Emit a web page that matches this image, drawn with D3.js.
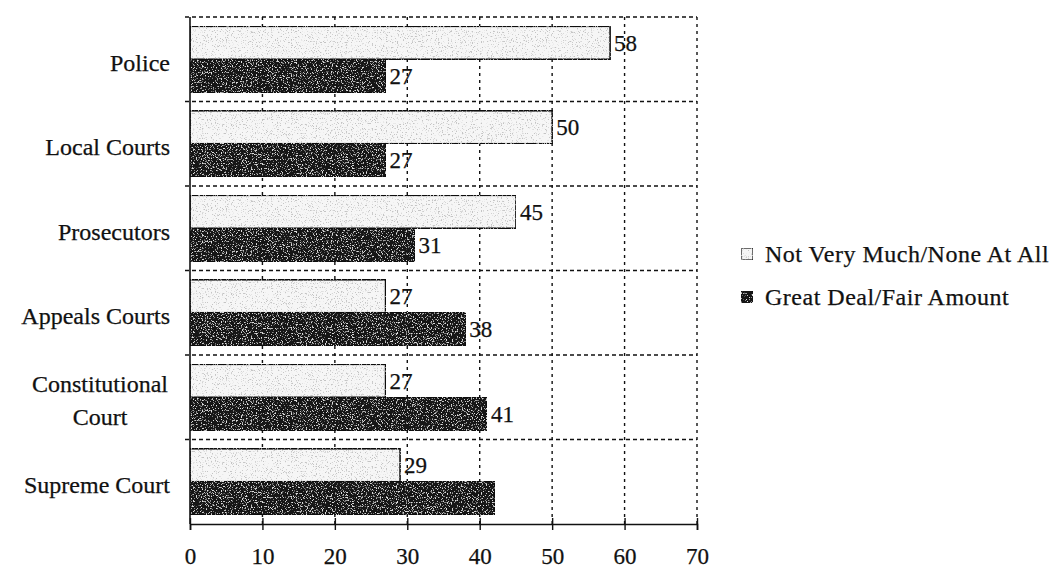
<!DOCTYPE html>
<html>
<head>
<meta charset="utf-8">
<script src="https://cdn.jsdelivr.net/npm/d3@7"></script>
<style>
  html, body { margin: 0; padding: 0; background: #fff; }
  svg text { font-family: "Liberation Serif", "Times New Roman", serif; fill: #111; stroke: #111; stroke-width: 0.25; }
</style>
</head>
<body>
<svg id="chart" width="1057" height="571"></svg>
<script>
// Institutions, top to bottom
const categories = ["Police", "Local Courts", "Prosecutors", "Appeals Courts", "Constitutional Court", "Supreme Court"];
// Display lines for each institution label
const categoryLines = [["Police"], ["Local Courts"], ["Prosecutors"], ["Appeals Courts"], ["Constitutional", "Court"], ["Supreme Court"]];
const seriesNames = ["Not Very Much/None At All", "Great Deal/Fair Amount"];
const notVeryMuch = [58, 50, 45, 27, 27, 29];
const greatDeal = [27, 27, 31, 38, 41, 42];
// which values carry a printed label
const greatDealLabelled = [true, true, true, true, true, false];
const xTicks = [0, 10, 20, 30, 40, 50, 60, 70];

const svg = d3.select("#chart");
const plot = { left: 190, right: 697, top: 17, bottom: 524 };
const fills = ["#f6f6f6", "#181818"];

// speckled fills for the two bar styles
const defs = svg.append("defs");
function speckle(id, dot, freq, a, b, seed) {
  const f = defs.append("filter").attr("id", id)
    .attr("x", 0).attr("y", 0).attr("width", 1).attr("height", 1);
  f.append("feTurbulence").attr("type", "fractalNoise")
    .attr("baseFrequency", freq).attr("numOctaves", 2).attr("seed", seed).attr("result", "noise");
  f.append("feColorMatrix").attr("in", "noise").attr("type", "matrix")
    .attr("values", `0 0 0 0 ${dot}  0 0 0 0 ${dot}  0 0 0 0 ${dot}  ${a} 0 0 0 ${b}`)
    .attr("result", "dots");
  f.append("feComposite").attr("in", "dots").attr("in2", "SourceGraphic").attr("operator", "in").attr("result", "clipped");
  const m = f.append("feMerge");
  m.append("feMergeNode").attr("in", "SourceGraphic");
  m.append("feMergeNode").attr("in", "clipped");
}
speckle("speckLight", 0.55, 0.8, 8, -4.7, 3);
speckle("speckDark", 0.75, 0.8, 7, -4.0, 7);

const x = d3.scaleLinear().domain([0, 70]).range([plot.left, plot.right]);
const y0 = d3.scaleBand().domain(categories).range([plot.top, plot.bottom])
  .paddingInner(0.22).paddingOuter(0.11);
const y1 = d3.scaleBand().domain(seriesNames).range([0, y0.bandwidth()]).padding(0);

// horizontal dashed separators between categories and top border
const step = y0.step();
const sepYs = d3.range(0, categories.length).map(i => plot.top + i * step);
const grid = svg.append("g").attr("stroke", "#111").attr("stroke-width", 1.4).attr("fill", "none");
grid.selectAll("line.h").data(sepYs).join("line")
  .attr("class", "h")
  .attr("x1", plot.left - 5).attr("x2", plot.right)
  .attr("y1", d => d).attr("y2", d => d)
  .attr("stroke-dasharray", "4,3");
// vertical dotted gridlines
grid.selectAll("line.v").data(xTicks.slice(1)).join("line")
  .attr("class", "v")
  .attr("x1", d => x(d)).attr("x2", d => x(d))
  .attr("y1", plot.top).attr("y2", plot.bottom)
  .attr("stroke-dasharray", "3,4");

// bars
const rows = categories.map((c, i) => ({ c, i, values: [notVeryMuch[i], greatDeal[i]] }));
const groups = svg.append("g").selectAll("g").data(rows).join("g")
  .attr("transform", d => `translate(0,${y0(d.c)})`);
groups.selectAll("rect").data(d => d.values.map((v, k) => ({ v, k, s: seriesNames[k], i: d.i })))
  .join("rect")
  .attr("x", x(0))
  .attr("y", d => y1(d.s))
  .attr("width", d => x(d.v) - x(0))
  .attr("height", y1.bandwidth())
  .attr("fill", d => fills[d.k])
  .attr("stroke", "#111").attr("stroke-width", 1.6)
  .attr("filter", d => d.k === 0 ? "url(#speckLight)" : "url(#speckDark)");

// value labels
groups.selectAll("text").data(d => d.values.map((v, k) => ({ v, k, s: seriesNames[k], i: d.i }))
    .filter(d => d.k === 0 || greatDealLabelled[d.i]))
  .join("text")
  .attr("x", d => x(d.v) + 4)
  .attr("y", d => y1(d.s) + y1.bandwidth() / 2)
  .attr("dy", "0.35em")
  .attr("font-size", 23)
  .text(d => d.v);

// x axis
const xAxis = svg.append("g").attr("transform", `translate(0,${plot.bottom})`)
  .call(d3.axisBottom(x).tickValues(xTicks).tickSize(6).tickPadding(18));
xAxis.select(".domain").attr("stroke", "#111").attr("stroke-width", 1.6);
xAxis.selectAll(".tick line").attr("y1", -6).attr("stroke", "#111").attr("stroke-width", 1.4);
xAxis.selectAll(".tick text").attr("font-size", 23).attr("font-family", null).attr("fill", "#111");

// left axis line
svg.append("line").attr("x1", plot.left).attr("x2", plot.left)
  .attr("y1", plot.top).attr("y2", plot.bottom)
  .attr("stroke", "#111").attr("stroke-width", 1.6);

// category labels
const catG = svg.append("g");
rows.forEach(r => {
  const lines = categoryLines[r.i];
  const multi = lines.length > 1;
  const cy = y0(r.c) + y0.bandwidth() / 2 + 5;
  const t = catG.append("text")
    .attr("text-anchor", multi ? "middle" : "end")
    .attr("font-size", 24);
  lines.forEach((ln, j) => {
    t.append("tspan")
      .attr("x", multi ? 100 : 170)
      .attr("y", cy - 2 + (j - (lines.length - 1) / 2) * 33)
      .attr("dy", "0.35em")
      .text(ln);
  });
});

// legend
const legend = svg.append("g").attr("transform", "translate(741,254)");
const lg = legend.selectAll("g").data(seriesNames).join("g")
  .attr("transform", (d, i) => `translate(0,${i * 43})`);
lg.append("rect").attr("x", 0).attr("y", -6).attr("width", 12).attr("height", 12)
  .attr("fill", (d, i) => fills[i])
  .attr("stroke", "#111").attr("stroke-width", 1.2)
  .attr("filter", (d, i) => i === 0 ? "url(#speckLight)" : "url(#speckDark)");
lg.append("text").attr("x", 24).attr("y", 0).attr("dy", "0.35em")
  .attr("font-size", 24).attr("letter-spacing", 0.5)
  .text(d => d);
</script>
</body>
</html>
